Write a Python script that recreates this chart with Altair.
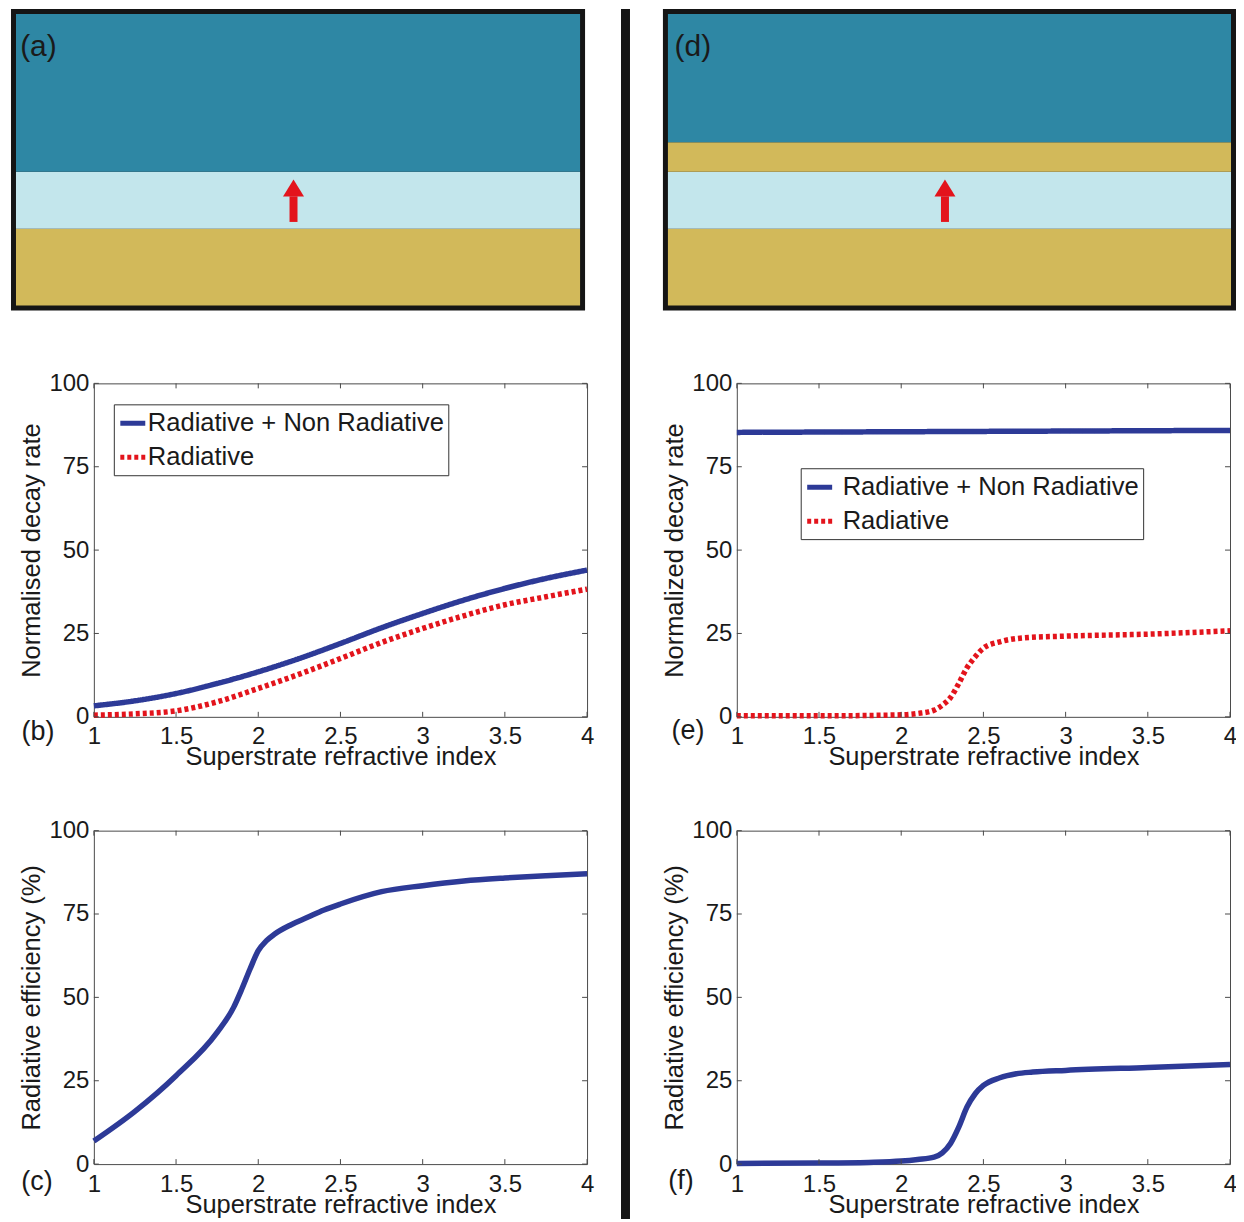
import altair as alt
import pandas as pd

FONT = "Liberation Sans"
TXT = "#1a1a1a"
BLUE = "#2d3a97"
RED = "#e3141c"
FRAME = "#4a4a4a"
DARK = "#151515"
GOLD = "#d2b95a"
LIGHT = "#c3e6ec"
TEAL = "#2e87a4"
W, H = 494, 334
H1 = 260
FR = 5  # schematic border thickness (px)

X_TICKS = [1, 1.5, 2, 2.5, 3, 3.5, 4]
Y_TICKS = [0, 25, 50, 75, 100]
SERIES = ["Radiative + Non Radiative", "Radiative"]
X_TITLE = "Superstrate refractive index"

# ---- panel (b)
b_n = [1.0, 1.25, 1.5, 1.75, 2.0, 2.25, 2.5, 2.75, 3.0, 3.25, 3.5, 3.75, 4.0]
b_total = [3.3, 4.8, 7.0, 10.0, 13.5, 17.5, 22.0, 26.7, 31.0, 35.0, 38.5, 41.5, 44.0]
b_rad = [0.5, 0.9, 1.8, 4.5, 8.5, 12.8, 17.5, 22.3, 26.5, 30.3, 33.6, 36.0, 38.3]

# ---- panel (e)
e_total_n = [1.0, 2.0, 3.0, 4.0]
e_total = [85.3, 85.5, 85.7, 85.9]
e_rad_n = [1.0, 1.5, 2.0, 2.1, 2.2, 2.25, 2.3, 2.35, 2.4, 2.45, 2.5, 2.6, 2.75, 3.0, 3.5, 4.0]
e_rad = [0.3, 0.3, 0.6, 1.0, 2.0, 3.5, 5.8, 10.0, 14.7, 18.0, 20.6, 22.5, 23.7, 24.2, 24.8, 25.8]

# ---- panel (c)
c_n = [1.0, 1.25, 1.5, 1.75, 1.85, 1.9, 1.95, 2.0, 2.05, 2.1, 2.2, 2.3, 2.4, 2.5,
       2.75, 3.0, 3.25, 3.5, 3.75, 4.0]
c_eff = [6.9, 15.8, 26.5, 39.5, 47.0, 52.5, 58.5, 64.0, 67.0, 69.0, 71.8, 74.0, 76.2, 78.0,
         81.7, 83.5, 84.9, 85.8, 86.5, 87.1]

# ---- panel (f)
f_n = [1.0, 1.5, 1.8, 2.0, 2.1, 2.2, 2.25, 2.3, 2.35, 2.4, 2.45, 2.5, 2.6, 2.7, 2.8, 3.0, 3.5, 4.0]
f_eff = [0.2, 0.3, 0.5, 0.9, 1.4, 2.1, 3.4, 6.2, 11.1, 17.1, 21.1, 23.6, 25.9, 27.1, 27.6, 28.1, 29.0, 29.9]

# ---- schematics (layer extents, arbitrary depth units from bottom)
a_layers = ["Substrate", "Emitter layer", "Superstrate"]
a_bottom = [0, 78, 136]
a_top = [78, 136, 296.5]
a_colors = [GOLD, LIGHT, TEAL]
d_layers = ["Substrate", "Emitter layer", "Spacer", "Superstrate"]
d_bottom = [0, 78, 136, 166]
d_top = [78, 136, 166, 296.5]
d_colors = [GOLD, LIGHT, GOLD, TEAL]
SCH_X = [0, 100]
SCH_Y = [0, 296.5]
arrow_x = [49.2]
arrow_base = [85]
arrow_neck = [111]
arrow_head = [119.5]


def schematic(layers, bottom, top, colors, label, x_range, label_x, divider=False):
    y_range = [296, 4]
    xs = alt.Scale(domain=SCH_X, range=x_range)
    ys = alt.Scale(domain=SCH_Y, range=y_range)
    border = alt.Chart(pd.DataFrame({"k": [0]})).mark_rect(color=DARK).encode(
        x=alt.value(x_range[0] - FR), x2=alt.value(x_range[1] + FR),
        y=alt.value(y_range[1] - FR), y2=alt.value(y_range[0] + FR))
    df = pd.DataFrame({"layer": layers, "y0": bottom, "y1": top, "color": colors,
                       "x0": [SCH_X[0]] * len(layers), "x1": [SCH_X[1]] * len(layers)})
    rects = alt.Chart(df).mark_rect().encode(
        x=alt.X("x0:Q", scale=xs, axis=None), x2="x1:Q",
        y=alt.Y("y0:Q", scale=ys, axis=None), y2="y1:Q",
        color=alt.Color("color:N", scale=None))
    adf = pd.DataFrame({"x": arrow_x, "y0": arrow_base, "y1": arrow_neck, "yh": arrow_head})
    shaft = alt.Chart(adf).mark_rule(color=RED, strokeWidth=8).encode(
        x=alt.X("x:Q", scale=xs, axis=None),
        y=alt.Y("y0:Q", scale=ys, axis=None), y2="y1:Q")
    head = alt.Chart(adf).mark_point(shape="M -1 0.8 L 0 -0.8 L 1 0.8 Z", size=441,
                                     filled=True, color=RED, opacity=1, strokeWidth=0).encode(
        x=alt.X("x:Q", scale=xs, axis=None),
        y=alt.Y("yh:Q", scale=ys, axis=None))
    txt = alt.Chart(pd.DataFrame({"t": [label]})).mark_text(
        font=FONT, fontSize=30, color=TXT, align="center", baseline="middle").encode(
        x=alt.value(label_x), y=alt.value(37), text="t:N")
    parts = [border, rects, shaft, head, txt]
    if divider:
        div = alt.Chart(pd.DataFrame({"k": [0]})).mark_rect(color=DARK).encode(
            x=alt.value(-116), x2=alt.value(-107), y=alt.value(-1), y2=alt.value(1212))
        parts.append(div)
    return alt.layer(*parts).properties(
        width=W, height=H1, view=alt.ViewBackground(stroke="transparent"))


def panel(df, ytitle, label, label_xy, legend_pos=None, label_offset=0):
    xs = alt.Scale(domain=[1, 4], nice=False, zero=False)
    ys = alt.Scale(domain=[0, 100], nice=False)
    xaxis = alt.Axis(values=X_TICKS, format="~g", title=X_TITLE, titleFontSize=25.5,
                     titlePadding=-4, labelFontSize=24, labelPadding=8, domain=False,
                     ticks=False, grid=False, labelFlush=False, labelOverlap=False)
    yaxis = alt.Axis(values=Y_TICKS, format="d", title=ytitle, titleFontSize=25.5,
                     titlePadding=4, labelFontSize=24, labelPadding=5, domain=False,
                     ticks=False, grid=False, labelFlush=False, labelOverlap=False)
    X = alt.X("n:Q", scale=xs, axis=xaxis)
    Y = alt.Y("v:Q", scale=ys, axis=yaxis)
    if legend_pos is not None:
        leg = alt.Legend(title=None, orient="none", legendX=legend_pos[0], legendY=legend_pos[1],
                         direction="vertical", symbolType="stroke", symbolSize=625,
                         symbolStrokeWidth=5, labelFont=FONT, labelFontSize=25.6,
                         labelColor=TXT, labelOffset=label_offset, labelLimit=500,
                         padding=4, rowPadding=5, strokeColor="#333333", fillColor="white",
                         cornerRadius=0, symbolOpacity=1)
        line = alt.Chart(df).mark_line(strokeWidth=5.5, interpolate="monotone",
                                       strokeJoin="round").encode(
            x=X, y=Y,
            color=alt.Color("series:N", scale=alt.Scale(domain=SERIES, range=[BLUE, RED]), legend=leg),
            strokeDash=alt.StrokeDash("series:N", scale=alt.Scale(domain=SERIES, range=[[1, 0], [4, 3]]), legend=leg),
        )
    else:
        line = alt.Chart(df).mark_line(strokeWidth=5.5, interpolate="monotone", color=BLUE,
                                       strokeJoin="round").encode(x=X, y=Y)
    xt = pd.DataFrame({"n": X_TICKS})
    yt = pd.DataFrame({"v": Y_TICKS})
    tb = alt.Chart(xt).mark_rule(color=FRAME, strokeWidth=1).encode(
        x=X, y=alt.value(H), y2=alt.value(H - 5))
    tt = alt.Chart(xt).mark_rule(color=FRAME, strokeWidth=1).encode(
        x=X, y=alt.value(0), y2=alt.value(5))
    tl = alt.Chart(yt).mark_rule(color=FRAME, strokeWidth=1).encode(
        y=Y, x=alt.value(0), x2=alt.value(5))
    tr = alt.Chart(yt).mark_rule(color=FRAME, strokeWidth=1).encode(
        y=Y, x=alt.value(W), x2=alt.value(W - 5))
    txt = alt.Chart(pd.DataFrame({"t": [label]})).mark_text(
        font=FONT, fontSize=27, color=TXT, align="center", baseline="middle").encode(
        x=alt.value(label_xy[0]), y=alt.value(label_xy[1]), text="t:N")
    return alt.layer(line, tb, tt, tl, tr, txt).properties(width=W, height=H)


def long_df(pairs):
    rows = []
    for name, ns, vs in pairs:
        for n, v in zip(ns, vs):
            rows.append({"series": name, "n": n, "v": v})
    return pd.DataFrame(rows)


df_b = long_df([(SERIES[0], b_n, b_total), (SERIES[1], b_n, b_rad)])
df_e = long_df([(SERIES[0], e_total_n, e_total), (SERIES[1], e_rad_n, e_rad)])
df_c = pd.DataFrame({"n": c_n, "v": c_eff})
df_f = pd.DataFrame({"n": f_n, "v": f_eff})

pa = schematic(a_layers, a_bottom, a_top, a_colors, "(a)", [-78, 487], -55.5)
pd_ = schematic(d_layers, d_bottom, d_top, d_colors, "(d)", [-69, 495], -44, divider=True)
pb = panel(df_b, "Normalised decay rate", "(b)", (-56, H + 15), legend_pos=(20, 21), label_offset=0)
pe = panel(df_e, "Normalized decay rate", "(e)", (-49, H + 14), legend_pos=(64, 85), label_offset=8)
pc = panel(df_c, "Radiative efficiency (%)", "(c)", (-57, H + 18))
pf = panel(df_f, "Radiative efficiency (%)", "(f)", (-56, H + 17))

chart = alt.concat(pa, pd_, pb, pe, pc, pf, columns=2).properties(
    align="each", bounds="flush", spacing={"row": 114, "column": 150},
    padding={"left": 2, "top": -1, "right": -2, "bottom": -3}
).resolve_scale(color="independent", strokeDash="independent").configure(
    font=FONT
).configure_view(stroke=FRAME, strokeWidth=1).configure_axis(
    labelFont=FONT, titleFont=FONT, labelColor=TXT, titleColor=TXT, titleFontWeight="normal"
)

chart.save("out.html", embed_options={"renderer": "svg", "actions": False})
